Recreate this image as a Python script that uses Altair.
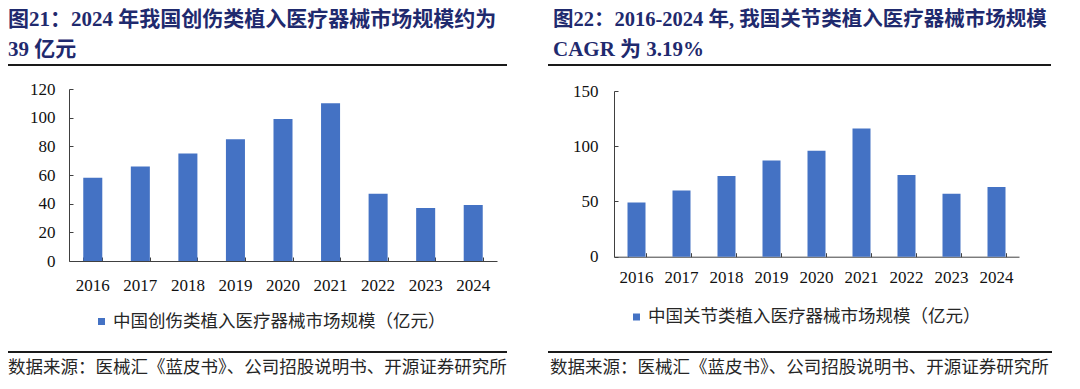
import altair as alt
import pandas as pd

# ---------------- data ----------------
years = ["2016", "2017", "2018", "2019", "2020", "2021", "2022", "2023", "2024"]
trauma_values = [58, 66, 75, 85, 99, 110, 47, 37, 39]
joint_values = [49, 60, 73, 87, 96, 116, 74, 57, 63]
left_y_ticks = [0, 20, 40, 60, 80, 100, 120]
right_y_ticks = [0, 50, 100, 150]

left_title_1 = "图21：2024 年我国创伤类植入医疗器械市场规模约为"
left_title_2 = "39 亿元"
right_title_1 = "图22：2016-2024 年, 我国关节类植入医疗器械市场规模"
right_title_2 = "CAGR 为 3.19%"
left_legend = "中国创伤类植入医疗器械市场规模（亿元）"
right_legend = "中国关节类植入医疗器械市场规模（亿元）"
source_text = "数据来源：医械汇《蓝皮书》、公司招股说明书、开源证券研究所"

# ---------------- styling ----------------
W, H = 1064, 373
BAR = "#4472C4"
TITLE_C = "#1F2A6E"
AXIS_C = "#404040"
NUM_FONT = "Liberation Serif"
CJK_FONT = "Noto Sans CJK SC"
TITLE_FONT = "Liberation Serif, Noto Sans CJK SC"

df_left = pd.DataFrame({"year": years, "value": trauma_values})
df_right = pd.DataFrame({"year": years, "value": joint_values})


def panel(df, xr, yr, ydom, yticks, xlabpad, ylabpad):
    base = alt.Chart(df)
    xscale = alt.Scale(range=xr, paddingInner=0.6, paddingOuter=0.3)
    yscale = alt.Scale(domain=ydom, range=yr, nice=False, zero=True)
    bars = base.mark_bar(color=BAR).encode(
        x=alt.X(
            "year:N", sort=None, scale=xscale,
            axis=alt.Axis(
                orient="bottom", offset=-(H - yr[0]), title=None, ticks=False,
                tickSize=0, labelAngle=0, labelPadding=xlabpad, labelFont=NUM_FONT,
                labelFontSize=17, labelColor="#111111", domainColor=AXIS_C,
                domainWidth=1, grid=False,
            ),
        ),
        y=alt.Y(
            "value:Q", scale=yscale,
            axis=alt.Axis(
                orient="left", offset=-xr[0], title=None, ticks=False, tickSize=0,
                values=yticks, labelPadding=ylabpad, labelFont=NUM_FONT,
                labelFontSize=17, labelColor="#111111", domainColor=AXIS_C,
                domainWidth=1, grid=False,
            ),
        ),
    )
    ghost = base.mark_bar(opacity=0).encode(
        x=alt.X(
            "year:N", sort=None,
            axis=alt.Axis(
                orient="top", offset=-yr[0], title=None, labels=False, domain=False,
                ticks=True, tickSize=4, tickBand="extent", tickColor=AXIS_C,
                grid=False,
            ),
        ),
        y=alt.Y(
            "value:Q",
            axis=alt.Axis(
                orient="right", offset=xr[0] - W, title=None, labels=False,
                domain=False, ticks=True, tickSize=4, values=yticks,
                tickColor=AXIS_C, grid=False,
            ),
        ),
    )
    return alt.layer(bars, ghost).resolve_axis(x="independent", y="independent")


left = panel(df_left, [61, 489], [253, 81], [0, 120], left_y_ticks, 16, 14)
right = panel(df_right, [606, 1011], [248.7, 83], [0, 150], right_y_ticks, 13, 16)


def text(t, x, y, size, color, font, weight="normal"):
    return alt.Chart(pd.DataFrame({"t": [t]})).mark_text(
        align="left", baseline="middle", fontSize=size, color=color,
        font=font, fontWeight=weight,
    ).encode(text="t:N", x=alt.value(x), y=alt.value(y))


def hrule(x1, x2, y, width=2, color="#1a1a1a"):
    return alt.Chart(pd.DataFrame({"a": [0]})).mark_rule(
        color=color, strokeWidth=width
    ).encode(x=alt.value(x1), x2=alt.value(x2), y=alt.value(y))


def square(x1, x2, y1, y2):
    return alt.Chart(pd.DataFrame({"a": [0]})).mark_rect(color=BAR).encode(
        x=alt.value(x1), x2=alt.value(x2), y=alt.value(y1), y2=alt.value(y2)
    )


decor = [
    text(left_title_1, 0, 12, 21, TITLE_C, TITLE_FONT, "bold"),
    text(left_title_2, 0, 42, 21, TITLE_C, TITLE_FONT, "bold"),
    text(right_title_1, 545, 12, 20.5, TITLE_C, TITLE_FONT, "bold"),
    text(right_title_2, 545, 42, 21, TITLE_C, TITLE_FONT, "bold"),
    hrule(0, 499, 57),
    hrule(540, 1043, 57),
    square(90, 97, 310, 317),
    text(left_legend, 105, 314, 17.5, "#262626", CJK_FONT),
    square(625, 632, 305.5, 312.5),
    text(right_legend, 640, 309, 17.5, "#262626", CJK_FONT),
    hrule(0, 499, 344),
    hrule(540, 1044, 344),
    text(source_text, 0, 360, 17.5, "#262626", CJK_FONT),
    text(source_text, 542, 360, 17.5, "#262626", CJK_FONT),
]

chart = (
    alt.layer(left, right, *decor)
    .resolve_scale(x="independent", y="independent")
    .properties(
        width=W, height=H, padding=0,
        autosize=alt.AutoSizeParams(type="none"),
        background="white",
    )
    .configure_view(stroke=None)
)

chart.save("out.html", embed_options={"renderer": "svg", "actions": False})
